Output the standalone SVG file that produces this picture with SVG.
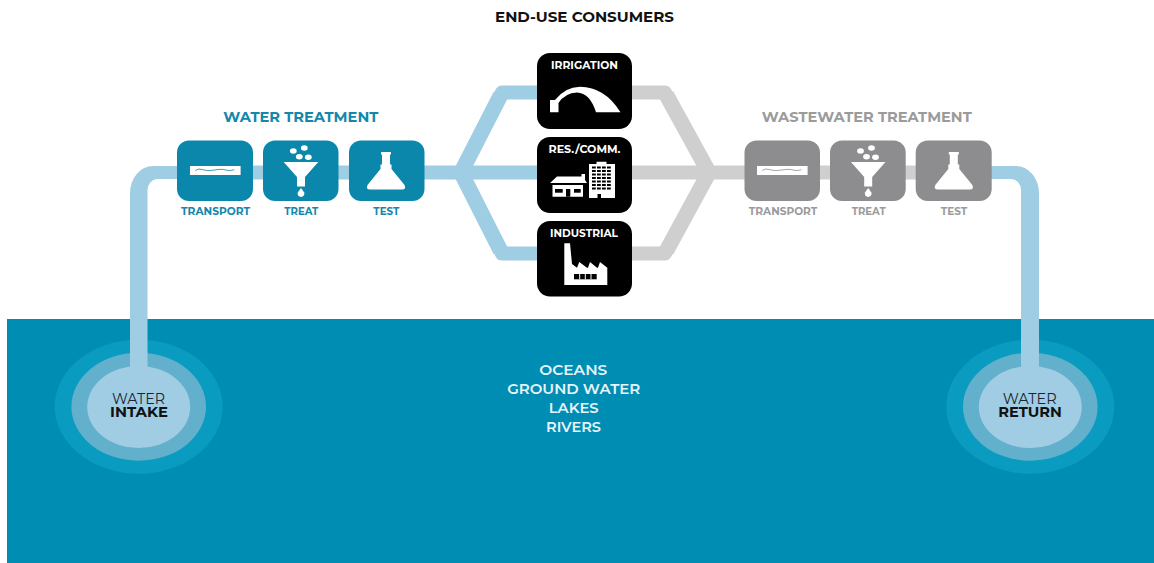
<svg xmlns="http://www.w3.org/2000/svg" width="1154" height="563" viewBox="0 0 1154 563">
<style>
text{font-family:"Montserrat","Lato","Liberation Sans",sans-serif;text-anchor:middle;font-weight:700}
.lbl{font-size:10.5px}
.tb{fill:#1487aa}.tg{fill:#9b9b9b}
.title{font-size:14.5px}
.cap{font-size:10.5px;fill:#fff}
.sea{font-size:14px;fill:#e8f4f8;font-weight:600}
.pipeb{fill:none;stroke:#9fcde3;stroke-width:14;stroke-linejoin:round}
.pipeg{fill:none;stroke:#cfcfcf;stroke-width:14;stroke-linejoin:round}
.diag{stroke-width:15.500}
.ring1{fill:#0a9cc0}.ring2{fill:#63b0cc}.ring3{fill:#a0cde3}
.solid{fill:#9fcde3}
.bluebox{fill:#0a87ab}.greybox{fill:#8d8d8f}.blackbox{fill:#000}
.wave{fill:none;stroke-width:.8}
.thin{font-size:14px;font-weight:400;fill:#1a2530}
.bold{font-size:14px;fill:#111}
</style>
<defs>
<g id="ico-transport"><rect x="-25.3" y="-4.5" width="50.6" height="9" fill="#fff"/><path class="wave" d="M-20 0q3-2.4 7-1t8 1t8-1t8 .6t8-.4" stroke="currentColor"/></g>
<g id="ico-treat"><path d="M-17.3-9H17.3L4 6V15.5H-4V6Z" fill="#fff"/><ellipse cx="-7.7" cy="-20" rx="3.4" ry="2.7" fill="#fff"/><ellipse cx="3.3" cy="-23" rx="3.4" ry="2.7" fill="#fff"/><ellipse cx="-1.7" cy="-14.3" rx="3.4" ry="2.7" fill="#fff"/><ellipse cx="7.3" cy="-13.7" rx="3.4" ry="2.7" fill="#fff"/><path d="M0 17L3.2 21.5A3.4 3.4 0 1 1-3.2 21.5Z" fill="#fff"/></g>
<g id="ico-test"><path d="M-5-19H5V-16.500H4V-6.500H5.500V-2L18.500 14Q20.500 18.500 16 18.500H-16Q-20.500 18.500-18.500 14L-5.500-2V-6.500H-4V-16.500H-5Z" fill="#fff"/></g>
</defs>
<rect width="1154" height="563" fill="#fff"/>
<rect x="7" y="319" width="1147" height="244" fill="#008db4"/>
<g id="intake-rings">
<ellipse class="ring1" cx="138.700" cy="406.700" rx="84" ry="67"/>
<ellipse class="ring2" cx="138.700" cy="406.700" rx="67.300" ry="54"/>
</g>
<g id="return-rings">
<ellipse class="ring1" cx="1030.300" cy="406.700" rx="84" ry="67"/>
<ellipse class="ring2" cx="1030.300" cy="406.700" rx="67.300" ry="54"/>
</g>
<g id="connectors">
<path class="solid" d="M190 166H153A23 27 0 0 0 130 193V372H147.500V190A10 11 0 0 1 157 179H190Z"/>
<path class="pipeb" d="M190 172.500H570M570 92.500H502L461 172.500L502 253.500H570"/>
<path class="pipeb diag" d="M500.600 95.200L461 172.500L500.600 250.800"/>
<path class="pipeg" d="M600 172.500H980M600 92.500H665L709 172.500L665 253.500H600"/>
<path class="pipeg diag" d="M666.400 95.100L709 172.500L666.400 250.900"/>
<path class="solid" d="M980 166H1016A23 27 0 0 1 1039 193V372H1021V190A10 11 0 0 0 1011 179H980Z"/>
</g>
<g id="intake">
<ellipse class="ring3" cx="138.700" cy="407" rx="51.500" ry="41"/>
<text class="thin" x="138.500" y="404" textLength="53" lengthAdjust="spacingAndGlyphs">WATER</text>
<text class="bold" x="139" y="417.300" textLength="58" lengthAdjust="spacingAndGlyphs">INTAKE</text>
</g>
<g id="return">
<ellipse class="ring3" cx="1030.300" cy="407" rx="51.500" ry="41"/>
<text class="thin" x="1029.700" y="404" textLength="54" lengthAdjust="spacingAndGlyphs">WATER</text>
<text class="bold" x="1030" y="416.700" textLength="63.500" lengthAdjust="spacingAndGlyphs">RETURN</text>
</g>
<g id="water-treatment">
<text x="300.800" y="122.300" class="title tb" textLength="155" lengthAdjust="spacingAndGlyphs">WATER TREATMENT</text>
<g id="wt-transport" color="#0a87ab"><rect class="bluebox" x="177" y="140.500" width="76" height="60.500" rx="12"/><use href="#ico-transport" x="215.300" y="170.500"/><text x="215.500" y="215" class="lbl tb" textLength="69" lengthAdjust="spacingAndGlyphs">TRANSPORT</text></g>
<g id="wt-treat"><rect class="bluebox" x="263" y="140.500" width="75.500" height="60.500" rx="12"/><use href="#ico-treat" x="301" y="171"/><text x="301.300" y="215" class="lbl tb" textLength="34" lengthAdjust="spacingAndGlyphs">TREAT</text></g>
<g id="wt-test"><rect class="bluebox" x="349" y="140.500" width="75.500" height="60.500" rx="12"/><use href="#ico-test" x="386" y="171"/><text x="386.300" y="215" class="lbl tb" textLength="26" lengthAdjust="spacingAndGlyphs">TEST</text></g>
</g>
<g id="wastewater-treatment">
<text x="866.700" y="122.300" class="title tg" textLength="210" lengthAdjust="spacingAndGlyphs">WASTEWATER TREATMENT</text>
<g id="ww-transport" color="#8d8d8f"><rect class="greybox" x="744.500" y="140.500" width="75.500" height="60.500" rx="12"/><use href="#ico-transport" x="782.300" y="170.500"/><text x="783" y="215" class="lbl tg" textLength="68.500" lengthAdjust="spacingAndGlyphs">TRANSPORT</text></g>
<g id="ww-treat"><rect class="greybox" x="830" y="140.500" width="75.700" height="60.500" rx="12"/><use href="#ico-treat" x="868.200" y="171"/><text x="868.700" y="215" class="lbl tg" textLength="34" lengthAdjust="spacingAndGlyphs">TREAT</text></g>
<g id="ww-test"><rect class="greybox" x="915.700" y="140.500" width="76" height="60.500" rx="12"/><use href="#ico-test" x="953.800" y="171"/><text x="954" y="215" class="lbl tg" textLength="26.500" lengthAdjust="spacingAndGlyphs">TEST</text></g>
</g>
<text x="584.500" y="22" class="title" fill="#111" textLength="179" lengthAdjust="spacingAndGlyphs">END-USE CONSUMERS</text>
<g id="irrigation"><rect class="blackbox" x="537" y="53" width="95" height="76" rx="13"/><text x="584.500" y="69.300" class="cap" textLength="67" lengthAdjust="spacingAndGlyphs">IRRIGATION</text>
<path d="M550 112.300V100H555Q565 87 580 86.700Q605 87 620.500 112.300H596Q590 93 577 92.500Q565 93 558.500 103V112.300Z" fill="#fff"/></g>
<g id="res-comm"><rect class="blackbox" x="537" y="137" width="95" height="76" rx="13"/><text x="584.500" y="153.300" class="cap" textLength="72" lengthAdjust="spacingAndGlyphs">RES./COMM.</text>
<path d="M550 183L557 176.500H581.500V174H585V180L587 183ZM552.500 185H583V196.700H552.500Z" fill="#fff"/>
<path d="M589 198V164H596.500V161.700H606.500V164H615V198Z" fill="#fff"/>
<path d="M592 167.500H612M592 171H612M592 174.500H612M592 178H612M592 181.500H612M592 185H612M592 188.500H612" stroke="#000" stroke-width="2" stroke-dasharray="3.800 1.200" fill="none"/>
<rect x="555" y="189" width="7.700" height="3.700" fill="#000"/><rect x="566" y="189" width="4.300" height="7.700" fill="#000"/><rect x="574" y="189" width="6.700" height="3.700" fill="#000"/><rect x="597.500" y="194" width="3.500" height="4" fill="#000"/></g>
<g id="industrial"><rect class="blackbox" x="537" y="221" width="95" height="75.500" rx="13"/><text x="584" y="236.700" class="cap" textLength="68" lengthAdjust="spacingAndGlyphs">INDUSTRIAL</text>
<path d="M564.300 243.300H570L572 264L577 267.700L579.300 262L587 267.700H588L590 262L597 267.700H598L600 262L607.300 267.700V285H564.300Z" fill="#fff"/>
<path d="M574 274H596.700V279.300H574Z" fill="#000"/><path d="M579.700 274V279.300M585.300 274V279.300M591 274V279.300" stroke="#fff" stroke-width="1"/></g>
<g id="water-bodies">
<text x="573.300" y="375" class="sea" textLength="68" lengthAdjust="spacingAndGlyphs">OCEANS</text>
<text x="573.700" y="394" class="sea" textLength="133" lengthAdjust="spacingAndGlyphs">GROUND WATER</text>
<text x="573.700" y="412.700" class="sea" textLength="50" lengthAdjust="spacingAndGlyphs">LAKES</text>
<text x="573.500" y="431.700" class="sea" textLength="55" lengthAdjust="spacingAndGlyphs">RIVERS</text>
</g>
</svg>
